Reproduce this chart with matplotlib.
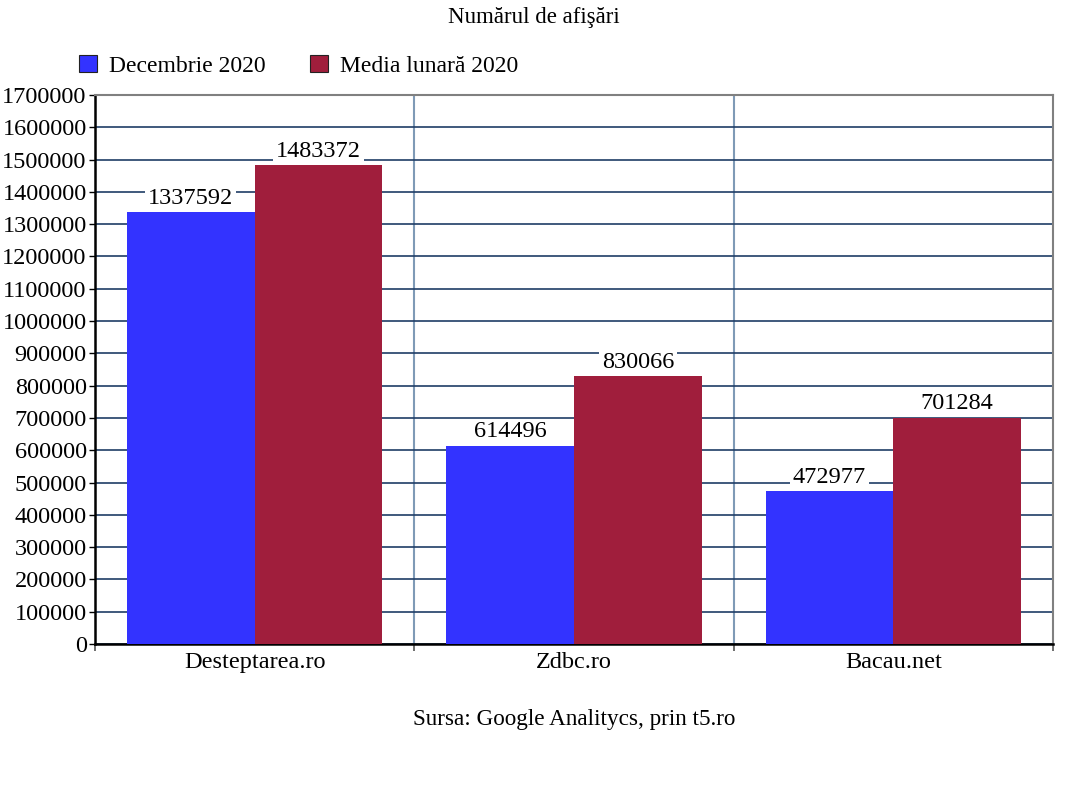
import matplotlib
matplotlib.use("Agg")
import matplotlib.pyplot as plt
import numpy as np
from matplotlib.patches import Patch

plt.rcParams['font.family'] = ['Liberation Serif', 'DejaVu Serif']

categories = ["Desteptarea.ro", "Zdbc.ro", "Bacau.net"]
series_names = ["Decembrie 2020", "Media lunară 2020"]
dec_2020 = [1337592, 614496, 472977]
media_2020 = [1483372, 830066, 701284]
colors = ["#3333ff", "#a01e3c"]
yticks = list(range(0, 1700001, 100000))

W, H = 1068, 785
fig = plt.figure(figsize=(W/100, H/100), dpi=100)
ax = fig.add_axes([95/W, 1-644/H, (1053-95)/W, (644-95)/H])

x = np.arange(len(categories))
bw = 0.4
for i, (vals, c) in enumerate(zip([dec_2020, media_2020], colors)):
    pos = x + (i - 0.5) * bw
    ax.bar(pos, vals, width=bw, color=c, zorder=3, linewidth=0)
    for p, v in zip(pos, vals):
        ax.annotate(f"{v}", (p, v), xytext=(0, 2.2), textcoords="offset points",
                    ha="center", va="bottom", fontsize=17.5, zorder=5,
                    bbox=dict(boxstyle="square,pad=0.12", fc="white", ec="none"))

ax.set_xlim(-0.5, len(categories) - 0.5)
ax.set_ylim(0, 1700000)
ax.set_yticks(yticks)
ax.set_yticklabels([str(t) for t in yticks], fontsize=17.5)
ax.yaxis.grid(True, color="#1f3d66", linewidth=1.2, zorder=1)
for b in np.arange(0.5, len(categories) - 0.5, 1):
    ax.axvline(b, color="#7f9ab6", linewidth=1.5, zorder=1)

ax.set_xticks(x)
ax.set_xticklabels(categories, fontsize=17.5)
ax.tick_params(axis="x", length=0, pad=6)
ax.set_xticks(np.arange(-0.5, len(categories), 1), minor=True)
ax.tick_params(axis="x", which="minor", length=5, width=1.2, color="#555555")
ax.tick_params(axis="y", length=4, width=1, pad=2)

for s in ["left", "bottom"]:
    ax.spines[s].set_color("black")
    ax.spines[s].set_linewidth(1.8)
for s in ["top", "right"]:
    ax.spines[s].set_color("#808080")
    ax.spines[s].set_linewidth(1.5)

fig.text(0.5, 1-17/H, "Numărul de afişări", ha="center", va="center", fontsize=16.5)

handles = [Patch(facecolor=c, edgecolor="#222222", linewidth=0.8) for c in colors]
fig.legend(handles, series_names, loc="center left", bbox_to_anchor=(79/W, 1-66/H),
           ncol=2, frameon=False, fontsize=17, handlelength=0.75, handleheight=0.75,
           handletextpad=0.5, columnspacing=1.9, borderaxespad=0, borderpad=0)

fig.text(574/W, 1-720/H, "Sursa: Google Analitycs, prin t5.ro", ha="center", va="center", fontsize=16.7)

fig.savefig("out.png", dpi=100, facecolor="white")
